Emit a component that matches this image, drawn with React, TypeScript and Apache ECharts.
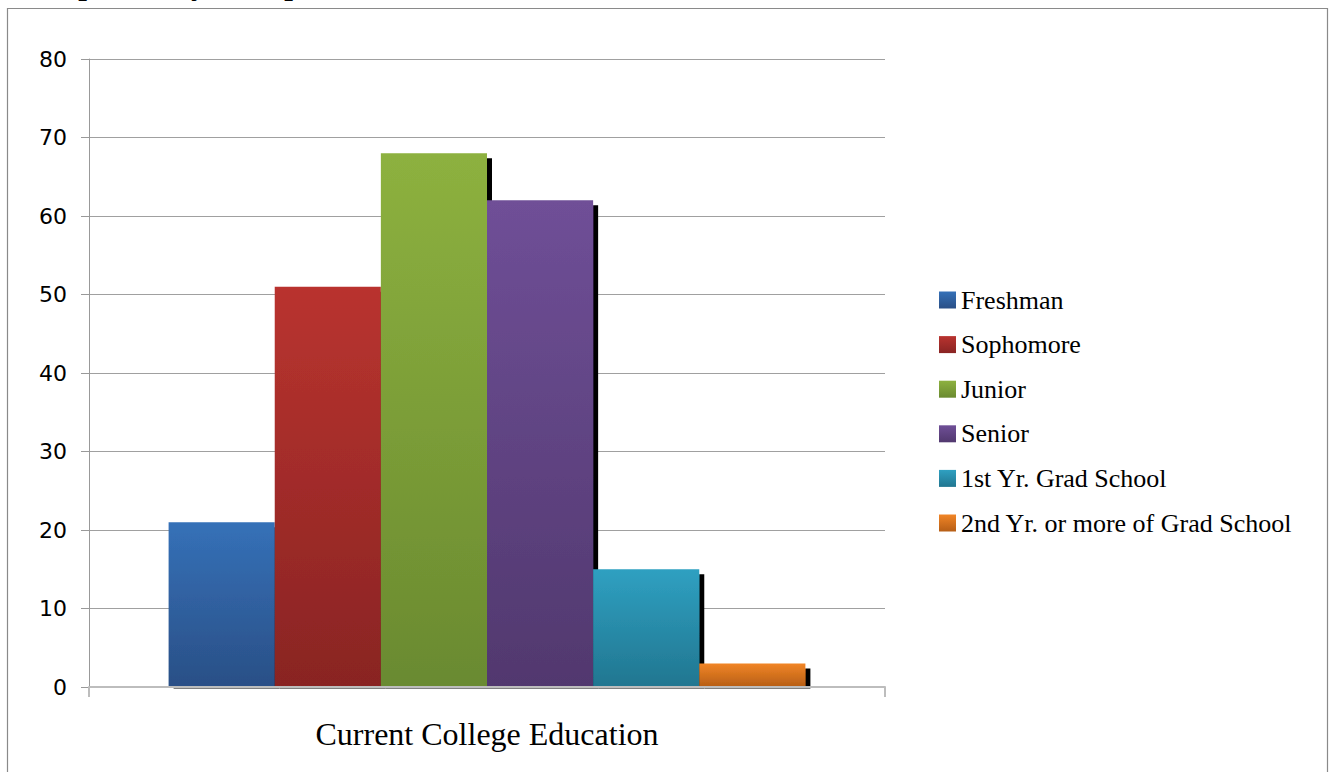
import React, { useEffect, useRef } from "react";
import * as echarts from "echarts";

const categories = ["Current College Education"];
const seriesNames = [
  "Freshman",
  "Sophomore",
  "Junior",
  "Senior",
  "1st Yr. Grad School",
  "2nd Yr. or more of Grad School",
];
const seriesValues = [21, 51, 68, 62, 15, 3];
const yTicks = { min: 0, max: 80, interval: 10 };
const titleText = "Responses by Group";

const colorTops = ["#3571b8", "#b9332f", "#8db13f", "#6f4f97", "#2fa0c1", "#f18526"];
const colorBottoms = ["#2a4f86", "#892423", "#6a8a30", "#51386e", "#217690", "#b65e16"];

export default function App() {
  const ref = useRef<HTMLDivElement>(null);
  useEffect(() => {
    if (!ref.current) return;
    const chart = echarts.init(ref.current, null, { renderer: "svg" });
    const serif = "'Liberation Serif', 'Times New Roman', serif";
    const series = seriesNames.map((name, i) => ({
      name,
      type: "bar",
      data: [seriesValues[i]],
      barGap: "0%",
      barCategoryGap: "20%",
      itemStyle: {
        color: new echarts.graphic.LinearGradient(0, 0, 0, 1, [
          { offset: 0, color: colorTops[i] },
          { offset: 1, color: colorBottoms[i] },
        ]),
        shadowColor: "#000",
        shadowBlur: 0,
        shadowOffsetX: 5,
        shadowOffsetY: 5,
      },
      emphasis: { disabled: true },
    }));
    chart.setOption({
      animation: false,
      backgroundColor: "#fff",
      grid: { left: 89, top: 59, right: 444, bottom: 85, containLabel: false },
      legend: {
        orient: "vertical",
        left: 939,
        top: 287,
        padding: 0,
        itemWidth: 17,
        itemHeight: 17,
        itemGap: 18.6,
        icon: "rect",
        data: seriesNames,
        itemStyle: { shadowBlur: 0, shadowOffsetX: 0, shadowOffsetY: 0, shadowColor: "transparent" },
        textStyle: { fontFamily: serif, fontSize: 26, lineHeight: 26, color: "#000" },
      },
      xAxis: {
        type: "category",
        data: categories,
        axisLine: { show: true, lineStyle: { color: "#bdbdbd", width: 2 } },
        axisTick: { show: true, length: 10, lineStyle: { color: "#bdbdbd", width: 2 } },
        axisLabel: { fontFamily: serif, fontSize: 32, color: "#000", margin: 31 },
        z: 5,
      },
      yAxis: {
        type: "value",
        min: yTicks.min,
        max: yTicks.max,
        interval: yTicks.interval,
        axisLine: { show: true, lineStyle: { color: "#999", width: 1 } },
        axisTick: { show: true, length: 8, lineStyle: { color: "#999" } },
        splitLine: { show: true, lineStyle: { color: "#a0a0a0", width: 1 } },
        axisLabel: { fontFamily: "'DejaVu Sans', sans-serif", fontSize: 22, color: "#000", margin: 22 },
      },
      graphic: [
        {
          type: "rect",
          shape: { x: 7.5, y: 8.5, width: 1320, height: 800 },
          style: { fill: "none", stroke: "#8a8a8a", lineWidth: 1.2 },
          silent: true,
          z: 0,
        },
        {
          type: "rect",
          shape: { x: 95, y: 688.5, width: 784, height: 8 },
          style: { fill: "#fff" },
          silent: true,
          z: 10,
        },
        {
          type: "text",
          x: 30,
          y: -17,
          style: {
            text: titleText,
            fontFamily: serif,
            fontWeight: "bold",
            fontSize: 31,
            fill: "#000",
            verticalAlign: "middle",
          },
          silent: true,
          z: 10,
        },
      ],
      series,
    });
    return () => chart.dispose();
  }, []);
  return (
    <div
      ref={ref}
      style={{ position: "fixed", left: 0, top: 0, width: 1329, height: 772 }}
    />
  );
}
